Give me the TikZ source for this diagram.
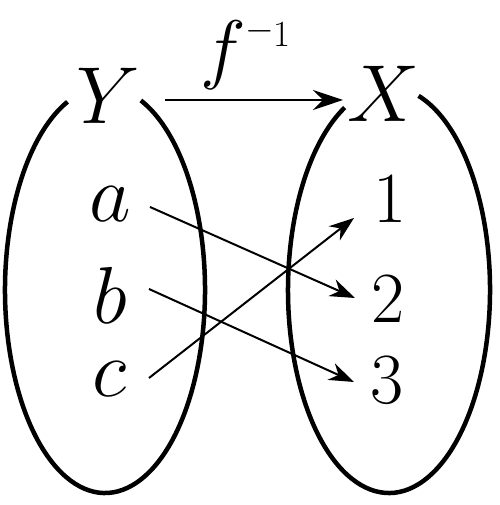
\RequirePackage{fix-cm}
\documentclass[tikz,border=0pt]{standalone}
\usetikzlibrary{arrows.meta}
\begin{document}
\begin{tikzpicture}[x=0.2mm,y=0.2mm,
  setline/.style={line width=0.9mm},
  arr/.style={line width=0.4mm,-{Stealth[length=5mm,width=3.6mm,inset=1.6mm]}},
  bigarr/.style={line width=0.4mm,-{Stealth[length=6mm,width=4mm,inset=2mm]}},
  lbl/.style={inner sep=0pt, font=\fontsize{46}{50}\selectfont},
  num/.style={inner sep=0pt, font=\fontsize{41}{45}\selectfont}]
\useasboundingbox (0,0) rectangle (499,505);
% sets
\draw[setline] ({105+100*cos(112)},{215+203*sin(112)}) arc[start angle=112,end angle=429,x radius=100,y radius=203];
\draw[setline] ({389+101*cos(116)},{215+203*sin(116)}) arc[start angle=116,end angle=433,x radius=101,y radius=203];
% labels
\node[lbl] (Y) at (108,409.5) {$Y$};
\node[lbl] (X) at (384,411) {$X$};
\node[inner sep=0pt, anchor=base west, font=\fontsize{44}{47}\selectfont] (f) at (200,430)
  {$f^{\mbox{\fontsize{21}{23}\selectfont\raisebox{1.3mm}{$-$}\kern-0.3mm$1$}}$};
\node[lbl] (a) at (110,300.5) {$a$};
\node[lbl] (b) at (110,209.5) {$b$};
\node[lbl] (c) at (110,126) {$c$};
\node[num] (n1) at (390,306.5) {1};
\node[num] (n2) at (388,206.5) {2};
\node[num] (n3) at (387,125) {3};
% arrows
\draw[bigarr] ([shift={(57,-4.5)}]Y.center) -- ([shift={(-41,-6)}]X.center);
\draw[arr] ([shift={(40,-2.5)}]a.center) -- ([shift={(-33,0.5)}]n2.center);
\draw[arr] ([shift={(39,6.5)}]b.center) -- ([shift={(-33,-2)}]n3.center);
\draw[arr] ([shift={(39,1)}]c.center) -- ([shift={(-36,-19.5)}]n1.center);
\end{tikzpicture}
\end{document}
